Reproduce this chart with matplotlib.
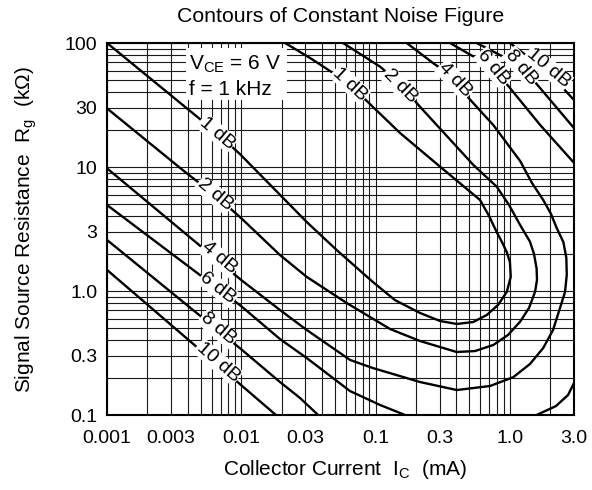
import numpy as np
import matplotlib
matplotlib.use("Agg")
import matplotlib.pyplot as plt
from matplotlib.ticker import FixedLocator, LogLocator, NullFormatter
from matplotlib.patches import Rectangle

plt.rcParams["font.family"] = ["Liberation Sans", "DejaVu Sans"]
plt.rcParams["mathtext.fontset"] = "custom"
plt.rcParams["mathtext.rm"] = "Liberation Sans"
plt.rcParams["mathtext.it"] = "Liberation Sans:italic"

nan = np.nan

# noise figure contours: Ic in mA, Rg in kOhm (nan = break)
nf1_ic = [0.001, 0.00659, 0.00978, 0.0307, 0.0513, 0.0956, 0.139, 0.214, 0.302, 0.402, 0.532,
          0.672, 0.815, 0.947, 1.014, 1.0, 0.947, 0.873, 0.797, 0.699, 0.599, 0.302,
          0.152, 0.0859, 0.0645, 0.0482, 0.0325, 0.0212]
nf1_rg = [100, 18.8, 12.7, 3.60, 2.14, 1.18, 0.846, 0.665, 0.573, 0.542, 0.562,
          0.640, 0.771, 0.981, 1.30, 1.71, 2.06, 2.48, 2.99, 4.03, 5.42, 10.06,
          18.8, 34.1, 45.0, 57.3, 75.7, 100]

nf2_ic = [0.001, 0.00392, 0.00637, 0.00995, 0.0194, 0.0307, 0.0609, 0.081, 0.128, 0.214, 0.402,
          0.550, 0.752, 0.968, 1.19, 1.387, 1.54, 1.591, 1.58, 1.511, 1.41, 1.19, 0.985,
          0.797, 0.534, 0.214, 0.152, 0.108, 0.0572]
nf2_rg = [29.7, 8.90, 5.95, 3.88, 1.95, 1.30, 0.800, 0.665, 0.494, 0.395, 0.322,
          0.328, 0.367, 0.442, 0.565, 0.729, 0.987, 1.23, 1.52, 1.99, 2.50, 3.41, 4.94,
          6.94, 10.4, 30.6, 46.7, 64.4, 100]

nf4_ic = [0.001, 0.00995, 0.0194, 0.0307, 0.0645, 0.0956, 0.214, 0.402, 0.711, 1.06, 1.411,
          1.77, 2.094, 2.36, 2.572, 2.65, 2.63, 2.50, 2.23, 2.023, 1.77, 1.46, 1.19,
          0.752, 0.477, 0.390, 0.269, 0.1705]
nf4_rg = [9.76, 1.23, 0.703, 0.485, 0.278, 0.239, 0.1845, 0.159, 0.1713, 0.202, 0.258,
          0.347, 0.485, 0.729, 0.981, 1.35, 1.85, 2.48, 3.22, 4.18, 5.42, 7.43, 11.2,
          21.8, 37.4, 52.2, 68.6, 100]

nf6_ic = [0.001, 0.00995, 0.0194, 0.0307, 0.0645, 0.108, 0.1656, nan,
          1.58, 2.20, 2.71, 3.0, nan,
          3.0, 1.675, 1.0, 0.752, 0.358]
nf6_rg = [4.94, 0.757, 0.410, 0.288, 0.156, 0.1204, 0.1, nan,
          0.1, 0.118, 0.145, 0.181, nan,
          10.8, 21.9, 43.4, 62.9, 100]

nf8_ic = [0.001, 0.00995, 0.0194, 0.0274, 0.0373, nan, 3.0, 1.675, 1.224, 0.566]
nf8_rg = [2.58, 0.340, 0.1845, 0.137, 0.1, nan, 20.6, 43.4, 64.9, 100]

nf10_ic = [0.001, 0.00995, 0.0181, nan, 3.0, 1.922, 1.0]
nf10_rg = [1.48, 0.1745, 0.1, nan, 34.7, 58.4, 100]

# inline curve labels
label_text = ["1 dB", "2 dB", "4 dB", "6 dB", "8 dB", "10 dB",
              "1 dB", "2 dB", "4 dB", "6 dB", "8 dB", "10 dB"]
label_ic = [0.00659, 0.00637, 0.00682, 0.00671, 0.00671, 0.00671,
            0.0645, 0.152, 0.390, 0.752, 1.224, 1.922]
label_rg = [18.8, 5.95, 1.85, 1.057, 0.494, 0.268,
            46.7, 45.0, 50.3, 62.9, 64.0, 62.9]
label_rot = [-40, -40, -40, -38, -40, -41,
             -43, -45, -47, -50, -50, -40]

x_ticks = [0.001, 0.003, 0.01, 0.03, 0.1, 0.3, 1.0, 3.0]
x_tick_labels = ["0.001", "0.003", "0.01", "0.03", "0.1", "0.3", "1.0", "3.0"]
y_ticks = [0.1, 0.3, 1.0, 3, 10, 30, 100]
y_tick_labels = ["0.1", "0.3", "1.0", "3", "10", "30", "100"]

fig = plt.figure(figsize=(5.92, 4.90), dpi=100)
ax = fig.add_axes([107 / 592, 1 - 415 / 490, 467 / 592, 372 / 490])
ax.set_xscale("log")
ax.set_yscale("log")
ax.set_xlim(0.001, 3.0)
ax.set_ylim(0.1, 100)

ax.xaxis.set_major_locator(FixedLocator(x_ticks))
ax.xaxis.set_major_formatter(plt.FixedFormatter(x_tick_labels))
ax.yaxis.set_major_locator(FixedLocator(y_ticks))
ax.yaxis.set_major_formatter(plt.FixedFormatter(y_tick_labels))
for axis in (ax.xaxis, ax.yaxis):
    axis.set_minor_locator(LogLocator(base=10, subs=np.arange(2, 10), numticks=20))
    axis.set_minor_formatter(NullFormatter())
ax.tick_params(which="both", length=0)
ax.tick_params(axis="x", pad=11, labelsize=14)
ax.tick_params(axis="y", pad=7, labelsize=14)
ax.grid(True, which="both", color="#1a1a1a", linewidth=0.8)
for sp in ax.spines.values():
    sp.set_linewidth(1.5)

for ic, rg in [(nf1_ic, nf1_rg), (nf2_ic, nf2_rg), (nf4_ic, nf4_rg),
               (nf6_ic, nf6_rg), (nf8_ic, nf8_rg), (nf10_ic, nf10_rg)]:
    ax.plot(ic, rg, color="black", linewidth=1.7, zorder=3,
            solid_joinstyle="round")

for txt, ic, rg, rot in zip(label_text, label_ic, label_rg, label_rot):
    ax.text(ic, rg, txt, rotation=rot, rotation_mode="anchor", ha="center", va="center",
            fontsize=14, zorder=5,
            bbox=dict(facecolor="white", edgecolor="none", pad=0.6))

# condition box
ax.add_patch(Rectangle((0.169, 0.847), 0.216, 0.14, transform=ax.transAxes,
                       facecolor="white", edgecolor="none", zorder=4))
ax.text(0.175, 0.9435, r"V$_{\mathrm{CE}}$ = 6 V", transform=ax.transAxes,
        fontsize=15, ha="left", va="center", zorder=5)
ax.text(0.175, 0.876, "f = 1 kHz", transform=ax.transAxes,
        fontsize=15, ha="left", va="center", zorder=5)

fig.text(340.5 / 592, 1 - 17 / 490, "Contours of Constant Noise Figure",
         fontsize=15.3, ha="center", va="center")
fig.text(345 / 592, 1 - 469 / 490, r"Collector Current  I$_{\mathrm{C}}$  (mA)",
         fontsize=15, ha="center", va="center")
fig.text(26 / 592, 1 - 230 / 490, r"Signal Source Resistance  R$_{\mathrm{g}}$  (k$\Omega$)",
         fontsize=15, ha="center", va="center", rotation=90)

fig.savefig("out.png", dpi=100)
